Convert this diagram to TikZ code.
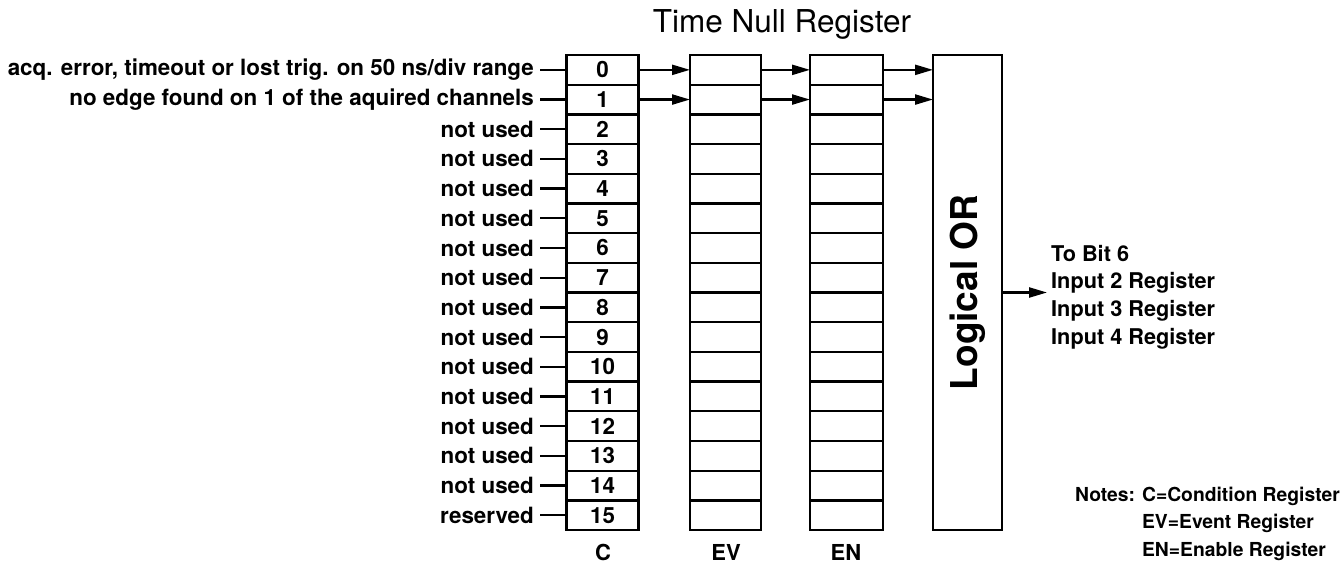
\documentclass[tikz,border=0pt]{standalone}
\usepackage{fontspec}
\setmainfont{TeX Gyre Heros}
\usetikzlibrary{arrows.meta}
\begin{document}
\begin{tikzpicture}[x=1pt,y=-1pt,
  line width=2.3pt,
  cell/.style={draw, line width=2.3pt, minimum width=#1, minimum height=29.69pt, inner sep=0pt, outer sep=0pt, font=\bfseries\fontsize{22.4}{26}\selectfont},
  lbl/.style={anchor=east, inner sep=0pt, font=\bfseries\fontsize{22.4}{26}\selectfont},
  txt/.style={inner sep=0pt, font=\bfseries\fontsize{22}{26}\selectfont},
  arr/.style={line width=2.3pt, -{Triangle[length=18pt,width=10pt]}},
]
\useasboundingbox (0,0) rectangle (1343,565);
\node[txt, anchor=base, font=\fontsize{31.5}{34}\selectfont] (title) at (782,32) {Time Null Register};
\foreach \i/\t in {0/{acq. error, timeout or lost trig. on 50 ns/div range},
                   1/{no edge found on 1 of the aquired channels},
                   2/{not used},3/{not used},4/{not used},5/{not used},6/{not used},
                   7/{not used},8/{not used},9/{not used},10/{not used},11/{not used},
                   12/{not used},13/{not used},14/{not used},15/{reserved}}{
  \pgfmathsetmacro\yy{55+29.69*(\i+0.5)}
  \node[cell=72pt] (C\i) at (602.5,\yy) {\i};
  \node[cell=71pt] (EV\i) at (725.5,\yy) {};
  \node[cell=73pt] (EN\i) at (846.5,\yy) {};
  \node[lbl] (L\i) at (535,\yy) {\t};
  \draw[shorten <=5pt] (L\i.east) -- (C\i.west);
}
\node[draw, minimum width=69pt, minimum height=475pt, inner sep=0pt, outer sep=0pt] (OR) at (967.5,292.5) {};
\node[rotate=90, inner sep=0pt, font=\bfseries\fontsize{37}{38}\selectfont] (ortxt) at (OR.center) {Logical OR};
\foreach \i in {0,1}{
  \draw[arr] (C\i.east) -- (EV\i.west);
  \draw[arr] (EV\i.east) -- (EN\i.west);
  \draw[arr] (EN\i.east) -- (EN\i.east -| OR.west);
}
\node[txt, anchor=west, align=left, font=\bfseries\fontsize{21.7}{27.7}\selectfont] (out) at (1050,297) {To Bit 6\\Input 2 Register\\Input 3 Register\\Input 4 Register};
\draw[arr, shorten >=3pt] (OR.east) -- (OR.east -| out.west);
\node[txt] (cC) at (603,552) {C};
\node[txt] (cEV) at (726,552) {EV};
\node[txt] (cEN) at (846,552) {EN};
\node[txt, anchor=east, font=\bfseries\fontsize{19.3}{27.5}\selectfont] (notes) at (1341,523)
  {\begin{tabular}{@{}l@{\hspace{7pt}}l@{}}Notes: & C=Condition Register\\ & EV=Event Register\\ & EN=Enable Register\end{tabular}};
\end{tikzpicture}
\end{document}
